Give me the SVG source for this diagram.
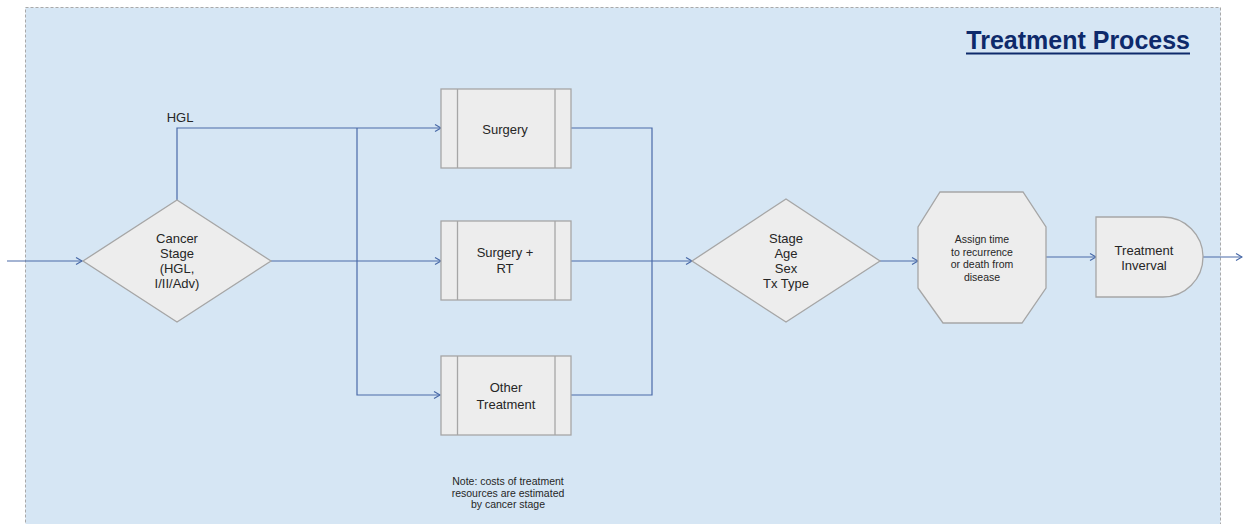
<svg xmlns="http://www.w3.org/2000/svg" width="1243" height="524" viewBox="0 0 1243 524">
  <style>
    .shape { fill: #EDEDED; stroke: #A6A6A6; stroke-width: 1.3; }
    .bar { fill: none; stroke: #A6A6A6; stroke-width: 1.3; }
    .conn { fill: none; stroke: #4A6AA8; stroke-width: 1.2; }
    .lbl { font-family: "Liberation Sans", Arial, sans-serif; fill: #262626; text-anchor: middle; }
    .big { font-size: 13px; }
    .small { font-size: 10.5px; }
    .title { font-family: "Liberation Sans", Arial, sans-serif; font-size: 25px; font-weight: bold; fill: #0E2A6B; text-anchor: end; }
  </style>
  <defs>
    <marker id="arrow" markerWidth="10" markerHeight="10" refX="7" refY="4" orient="auto" markerUnits="userSpaceOnUse">
      <polyline points="1,0.5 7,4 1,7.5" fill="none" stroke="#4A6AA8" stroke-width="1.2"/>
    </marker>
  </defs>

  <!-- panel background -->
  <rect x="25.5" y="7.5" width="1195" height="530" fill="#D6E6F4" stroke="#A9A9A9" stroke-width="1" stroke-dasharray="3,2"/>

  <!-- heading -->
  <g id="title">
    <text class="title" x="1190" y="49">Treatment Process</text>
    <line x1="966" y1="53.5" x2="1190" y2="53.5" stroke="#0E2A6B" stroke-width="2"/>
  </g>

  <!-- connectors -->
  <g id="connectors">
    <line class="conn" x1="7" y1="261" x2="82" y2="261" marker-end="url(#arrow)"/>
    <polyline class="conn" points="177,200 177,128 441,128" marker-end="url(#arrow)"/>
    <line class="conn" x1="271" y1="261" x2="441" y2="261" marker-end="url(#arrow)"/>
    <polyline class="conn" points="357,128 357,395 440,395" marker-end="url(#arrow)"/>
    <polyline class="conn" points="571,128 652,128 652,395 571,395"/>
    <line class="conn" x1="571" y1="261" x2="692" y2="261" marker-end="url(#arrow)"/>
    <line class="conn" x1="880" y1="261" x2="918" y2="261" marker-end="url(#arrow)"/>
    <line class="conn" x1="1046" y1="257" x2="1096" y2="257" marker-end="url(#arrow)"/>
    <line class="conn" x1="1203" y1="257" x2="1242" y2="257" marker-end="url(#arrow)"/>
    <text class="lbl big" x="180" y="122">HGL</text>
  </g>

  <!-- decision: cancer stage -->
  <g id="cancer-stage">
    <polygon class="shape" points="83,261 177,200 271,261 177,322"/>
    <text class="lbl big" x="177" y="243">Cancer</text>
    <text class="lbl big" x="177" y="258">Stage</text>
    <text class="lbl big" x="177" y="273">(HGL,</text>
    <text class="lbl big" x="177" y="288">I/II/Adv)</text>
  </g>

  <!-- predefined processes -->
  <g id="surgery">
    <rect class="shape" x="441" y="89" width="130" height="79"/>
    <line class="bar" x1="457.5" y1="89" x2="457.5" y2="168"/>
    <line class="bar" x1="555" y1="89" x2="555" y2="168"/>
    <text class="lbl big" x="505" y="134">Surgery</text>
  </g>

  <g id="surgery-rt">
    <rect class="shape" x="441" y="221" width="130" height="79"/>
    <line class="bar" x1="457.5" y1="221" x2="457.5" y2="300"/>
    <line class="bar" x1="555" y1="221" x2="555" y2="300"/>
    <text class="lbl big" x="505" y="257">Surgery +</text>
    <text class="lbl big" x="505" y="273">RT</text>
  </g>

  <g id="other-treatment">
    <rect class="shape" x="441" y="356" width="130" height="79"/>
    <line class="bar" x1="457.5" y1="356" x2="457.5" y2="435"/>
    <line class="bar" x1="555" y1="356" x2="555" y2="435"/>
    <text class="lbl big" x="506" y="392">Other</text>
    <text class="lbl big" x="506" y="409">Treatment</text>
  </g>

  <!-- decision: patient attributes -->
  <g id="attributes">
    <polygon class="shape" points="692,261 786,199 880,261 786,322"/>
    <text class="lbl big" x="786" y="243">Stage</text>
    <text class="lbl big" x="786" y="258">Age</text>
    <text class="lbl big" x="786" y="273">Sex</text>
    <text class="lbl big" x="786" y="288">Tx Type</text>
  </g>

  <!-- octagon: assign time -->
  <g id="assign-time">
    <polygon class="shape" points="940,192 1023,192 1046,227 1046,288 1022,323 943,323 918,288 918,227"/>
    <text class="lbl small" x="982" y="243">Assign time</text>
    <text class="lbl small" x="982" y="256">to recurrence</text>
    <text class="lbl small" x="982" y="268">or death from</text>
    <text class="lbl small" x="982" y="281">disease</text>
  </g>

  <!-- delay: treatment interval -->
  <g id="treatment-interval">
    <path class="shape" d="M1096,217 H1163 A40,40 0 0 1 1163,297 H1096 Z"/>
    <text class="lbl big" x="1144" y="255">Treatment</text>
    <text class="lbl big" x="1144" y="270">Inverval</text>
  </g>

  <!-- note -->
  <g id="note">
    <text class="lbl small" x="508" y="485">Note: costs of treatment</text>
    <text class="lbl small" x="508" y="497">resources are estimated</text>
    <text class="lbl small" x="508" y="508">by cancer stage</text>
  </g>
</svg>
